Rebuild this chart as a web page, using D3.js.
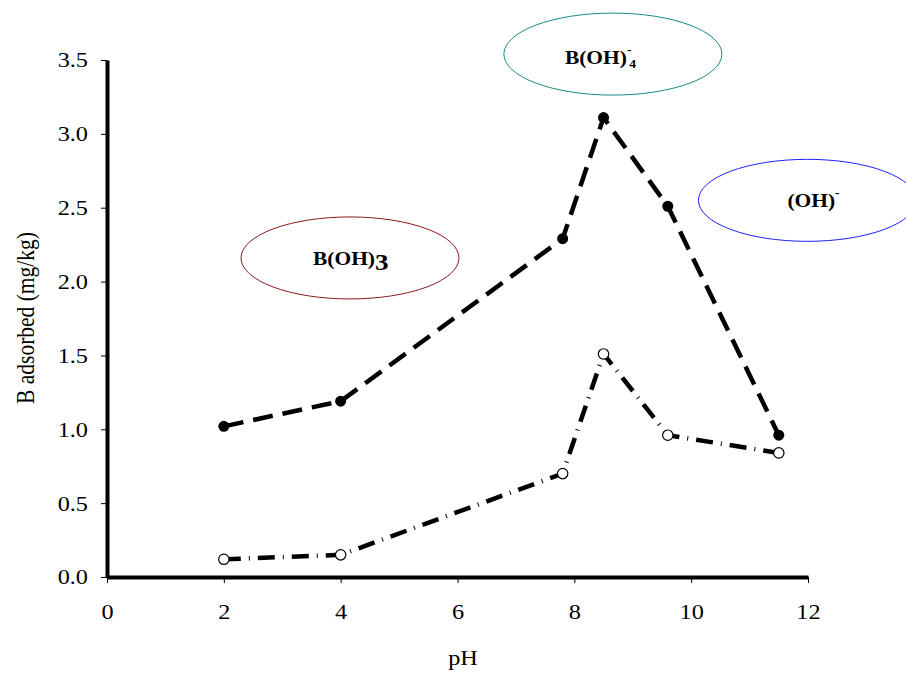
<!DOCTYPE html>
<html><head><meta charset="utf-8">
<script src="https://cdn.jsdelivr.net/npm/d3@7"></script>
<style>body{margin:0;background:#fff}svg{display:block}</style>
</head><body><svg id="c" width="906" height="673"></svg>
<script>
const pH = [2, 4, 7.8, 8.5, 9.6, 11.5];
const seriesFilled = [1.02, 1.19, 2.29, 3.11, 2.51, 0.96];
const seriesOpen = [0.12, 0.15, 0.70, 1.51, 0.96, 0.84];
const xTicks = [0, 2, 4, 6, 8, 10, 12];
const yTicks = [0, 0.5, 1.0, 1.5, 2.0, 2.5, 3.0, 3.5];
const species = [
  {label: "B(OH)", sup: "", sub: "3", x: 4.16, y: 2.16, color: "#8b1a1a"},
  {label: "B(OH)", sup: "-", sub: "4", x: 8.66, y: 3.54, color: "#1a8a8a"},
  {label: "(OH)", sup: "-", sub: "", x: 11.99, y: 2.55, color: "#2020ff"}
];
const FONT = "'Liberation Serif'";
const SX = 1.13; // horizontal text stretch seen in the reference

const svg = d3.select("#c");
const x = d3.scaleLinear().domain([0, 12]).range([107, 808]);
const y = d3.scaleLinear().domain([0, 3.5]).range([577, 60]);

// ellipses
species.forEach(s => {
  svg.append("ellipse").attr("cx", x(s.x)).attr("cy", y(s.y)).attr("rx", 109).attr("ry", 41)
    .attr("fill", "none").attr("stroke", s.color).attr("stroke-width", 1);
});
// labels
const offs = [[-37, 7], [-48, 10], [-20, 7]];
species.forEach((s, i) => {
  const g = svg.append("g").attr("transform", `translate(${x(s.x) + offs[i][0]},${y(s.y) + offs[i][1]}) scale(${SX},1)`);
  const t = g.append("text").attr("x", 0).attr("y", 0)
    .style("font-family", FONT).style("font-size", "19px").style("font-weight", "bold").attr("fill", "#000");
  t.append("tspan").text(s.label);
  if (i === 0) {
    t.append("tspan").style("font-size", "24px").attr("dy", 5).text(s.sub);
  } else if (i === 1) {
    t.append("tspan").style("font-size", "12px").attr("dy", -10).text(s.sup);
    t.append("tspan").style("font-size", "12px").attr("dy", 14).attr("dx", -2).text(s.sub);
  } else {
    t.append("tspan").style("font-size", "12px").attr("dy", -10).text(s.sup);
  }
});

// axes
const xAxis = d3.axisBottom(x).tickValues(xTicks).tickFormat(d3.format("d")).tickSize(6).tickSizeOuter(0);
const gx = svg.append("g").attr("transform", "translate(0,577)").call(xAxis);
gx.select(".domain").attr("stroke", "#000").attr("stroke-width", 4);
gx.selectAll(".tick line").attr("stroke", "#000");
gx.selectAll(".tick text").style("font-family", FONT).style("font-size", "21.5px")
  .attr("y", 42).attr("dy", 0).attr("transform", `scale(${SX},1)`).attr("fill", "#000");

const yAxis = d3.axisLeft(y).tickValues(yTicks).tickFormat(d3.format(".1f")).tickSize(6).tickSizeOuter(0);
const gy = svg.append("g").attr("transform", "translate(107,0)").call(yAxis);
gy.select(".domain").attr("stroke", "#000").attr("stroke-width", 4);
gy.selectAll(".tick line").attr("stroke", "#000");
gy.selectAll(".tick text").style("font-family", FONT).style("font-size", "21.5px")
  .attr("x", -19 / SX).attr("transform", `scale(${SX},1)`).attr("fill", "#000");

svg.append("text").attr("transform", `translate(463,665) scale(${SX},1)`).attr("text-anchor", "middle")
  .style("font-family", FONT).style("font-size", "21.5px").text("pH");
svg.append("text").attr("transform", `translate(34,318) rotate(-90) scale(1,${SX})`).attr("text-anchor", "middle")
  .style("font-family", FONT).style("font-size", "21.5px").text("B adsorbed (mg/kg)");

// lines
const line = d3.line().x(d => x(d[0])).y(d => y(d[1]));
const dFilled = pH.map((p, i) => [p, seriesFilled[i]]);
const dOpen = pH.map((p, i) => [p, seriesOpen[i]]);

svg.append("path").datum(dOpen).attr("d", line).attr("fill", "none").attr("stroke", "#000")
  .attr("stroke-width", 4.5).attr("stroke-dasharray", "17,8,1,8");
svg.append("path").datum(dFilled).attr("d", line).attr("fill", "none").attr("stroke", "#000")
  .attr("stroke-width", 4.5).attr("stroke-dasharray", "20,10");

svg.selectAll(".pf").data(dFilled).join("circle").attr("cx", d => x(d[0])).attr("cy", d => y(d[1]))
  .attr("r", 5.5).attr("fill", "#000");
svg.selectAll(".po").data(dOpen).join("circle").attr("cx", d => x(d[0])).attr("cy", d => y(d[1]))
  .attr("r", 5.2).attr("fill", "#fff").attr("stroke", "#000").attr("stroke-width", 1.2);
</script></body></html>
